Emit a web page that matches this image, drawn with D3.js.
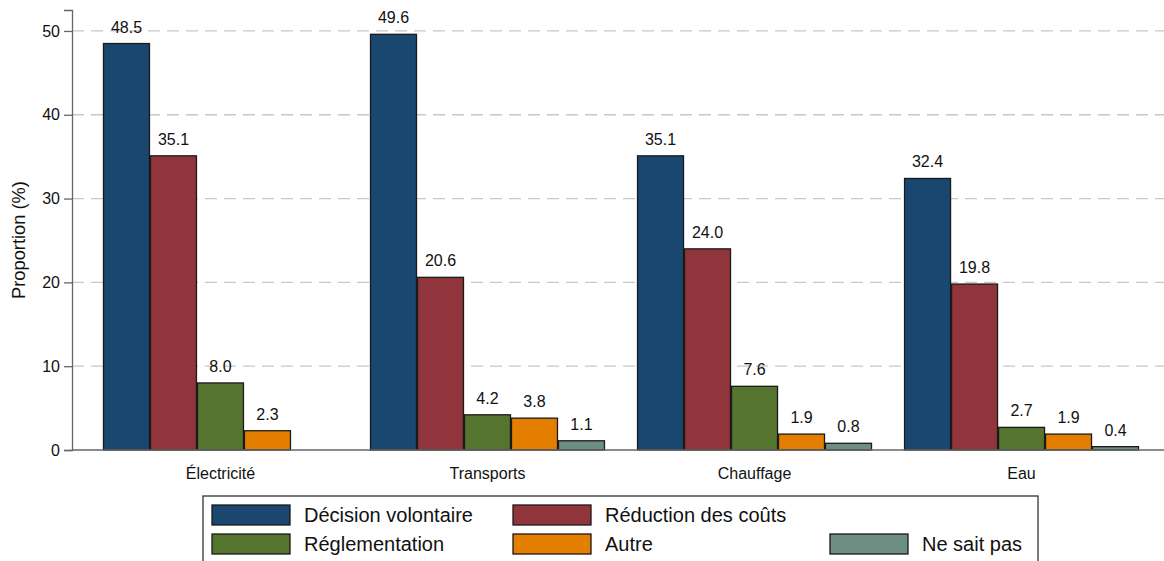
<!DOCTYPE html>
<html><head><meta charset="utf-8">
<script src="https://cdn.jsdelivr.net/npm/d3@7"></script>
<style>body{margin:0;background:#fff;}svg{display:block;font-family:Arial,"Liberation Sans",sans-serif;}</style>
</head><body><svg id="c" width="1164" height="561"></svg>
<script>
const categories = ["Électricité", "Transports", "Chauffage", "Eau"];
const seriesNames = ["Décision volontaire", "Réduction des coûts", "Réglementation", "Autre", "Ne sait pas"];
const decisionVolontaire = [48.5, 49.6, 35.1, 32.4];
const reductionCouts = [35.1, 20.6, 24.0, 19.8];
const reglementation = [8.0, 4.2, 7.6, 2.7];
const autre = [2.3, 3.8, 1.9, 1.9];
const neSaitPas = [null, 1.1, 0.8, 0.4];
const yTicks = [0, 10, 20, 30, 40, 50];
const colors = ["#1a476f", "#90353b", "#55752f", "#e37e00", "#6e8e84"];

const seriesValues = [decisionVolontaire, reductionCouts, reglementation, autre, neSaitPas];
const svg = d3.select("#c");

const x0 = d3.scaleBand().domain(categories).range([72, 1170]).paddingInner(0.12).paddingOuter(0.116);
const x1 = d3.scaleBand().domain(seriesNames).range([0, x0.bandwidth()]);
const y = d3.scaleLinear().domain([0, 52.5]).range([450, 10]);

// gridlines
svg.append("g").selectAll("line").data(yTicks.filter(t => t > 0)).join("line")
  .attr("x1", 72).attr("x2", 1164).attr("y1", d => y(d)).attr("y2", d => y(d))
  .attr("stroke", "#c8c8c8").attr("stroke-width", 1.3).attr("stroke-dasharray", "12,7");

// bars
const groups = svg.append("g").selectAll("g").data(categories).join("g")
  .attr("transform", d => `translate(${x0(d)},0)`);
groups.each(function(cat, ci) {
  const g = d3.select(this);
  const data = seriesNames.map((s, si) => ({s, si, v: seriesValues[si][ci]})).filter(d => d.v !== null);
  g.selectAll("rect").data(data).join("rect")
    .attr("x", d => x1(d.s) + 0.5).attr("width", x1.bandwidth() - 1)
    .attr("y", d => y(d.v)).attr("height", d => y(0) - y(d.v))
    .attr("fill", d => colors[d.si]).attr("stroke", "#1a1a1a").attr("stroke-width", 1.3);
  g.selectAll("text").data(data).join("text")
    .attr("x", d => x1(d.s) + x1.bandwidth() / 2).attr("y", d => y(d.v) - 11)
    .attr("text-anchor", "middle").attr("font-size", 16).attr("fill", "#111")
    .text(d => d.v.toFixed(1));
});

// zero line
svg.append("line").attr("x1", 72).attr("x2", 1164).attr("y1", y(0)).attr("y2", y(0))
  .attr("stroke", "#666").attr("stroke-width", 1.5);

// y axis
const yAxis = d3.axisLeft(y).tickValues(yTicks).tickSize(8).tickPadding(4).tickFormat(d3.format("d"));
const ya = svg.append("g").attr("transform", "translate(72,0)").call(yAxis);
ya.select(".domain").attr("stroke", "#666").attr("stroke-width", 1.3);
ya.selectAll(".tick line").attr("stroke", "#666").attr("stroke-width", 1.3);
ya.selectAll(".tick text").attr("font-size", 16).attr("fill", "#111").attr("font-family", "Arial,'Liberation Sans',sans-serif");

// x labels
svg.append("g").selectAll("text").data(categories).join("text")
  .attr("x", d => x0(d) + x0.bandwidth() / 2).attr("y", 479)
  .attr("text-anchor", "middle").attr("font-size", 16).attr("fill", "#111").text(d => d);

// y label
svg.append("text").attr("transform", "translate(25,240) rotate(-90)")
  .attr("text-anchor", "middle").attr("font-size", 18.3).attr("fill", "#111").text("Proportion (%)");

// legend
svg.append("rect").attr("x", 203).attr("y", 496).attr("width", 835).attr("height", 80)
  .attr("fill", "#fff").attr("stroke", "#333").attr("stroke-width", 1.3);
const legendPos = [[212, 505], [513, 505], [212, 534], [513, 534], [830, 534]];
const leg = svg.append("g").selectAll("g").data(seriesNames).join("g")
  .attr("transform", (d, i) => `translate(${legendPos[i][0]},${legendPos[i][1]})`);
leg.append("rect").attr("width", 78).attr("height", 20)
  .attr("fill", (d, i) => colors[i]).attr("stroke", "#1a1a1a").attr("stroke-width", 1.3);
leg.append("text").attr("x", 92).attr("y", 17).attr("font-size", 20).attr("fill", "#111").text(d => d);
</script></body></html>
